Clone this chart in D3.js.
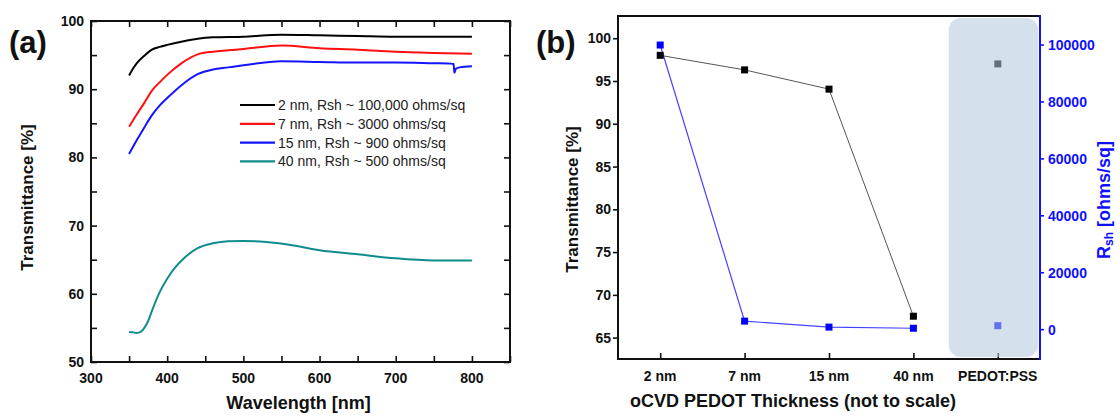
<!DOCTYPE html>
<html>
<head>
<meta charset="utf-8">
<script src="https://cdn.jsdelivr.net/npm/d3@7"></script>
<style>
    body { margin: 0; background: #fff; }
    svg { display: block; font-family: Arial, "Liberation Sans", sans-serif; }
    .tick-label { font-size: 14px; font-weight: bold; fill: #111; }
    .axis-title { font-size: 17px; font-weight: bold; fill: #111; }
</style>
</head>
<body>
<div id="chart"></div>
<script>
/* global d3 */

// ---- panel (a): transmittance spectra ----
var wl2 = [350, 355, 360, 370, 380, 390, 400, 420, 440, 460, 500, 550, 600, 650, 700, 750, 800],
    t2nm = [92.0, 93.0, 93.8, 94.9, 95.8, 96.2, 96.5, 97.0, 97.4, 97.6, 97.7, 98.0, 97.9, 97.8, 97.7, 97.7, 97.7];

var wl7 = [350, 360, 370, 380, 390, 400, 420, 440, 460, 480, 500, 550, 600, 650, 700, 750, 800],
    t7nm = [84.5, 86.3, 88.0, 89.8, 91.0, 92.1, 93.9, 95.1, 95.5, 95.7, 95.9, 96.4, 96.0, 95.8, 95.5, 95.3, 95.2];

var wl15 = [350, 360, 370, 380, 390, 400, 420, 440, 460, 480, 500, 550, 600, 650, 700, 750, 772, 776, 777, 779, 784, 800],
    t15nm = [80.5, 82.5, 84.4, 86.2, 87.6, 88.7, 90.7, 92.2, 92.9, 93.2, 93.5, 94.1, 94.0, 93.9, 93.9, 93.8, 93.75, 93.7, 92.4, 93.0, 93.2, 93.35];

var wl40 = [350, 355, 360, 365, 370, 375, 380, 390, 400, 410, 420, 440, 460, 480, 500, 530, 560, 600, 650, 700, 750, 800],
    t40nm = [54.4, 54.35, 54.25, 54.4, 55.0, 56.0, 57.5, 60.2, 62.2, 63.8, 65.0, 66.7, 67.4, 67.7, 67.75, 67.6, 67.2, 66.4, 65.8, 65.2, 64.9, 64.9];

var spectraNames = ["2 nm, Rsh ~ 100,000 ohms/sq", "7 nm, Rsh ~ 3000 ohms/sq",
                    "15 nm, Rsh ~ 900 ohms/sq", "40 nm, Rsh ~ 500 ohms/sq"],
    spectraColors = ["#000000", "#ff1010", "#1414ff", "#108c8c"];

var aXTicks = [300, 400, 500, 600, 700, 800],
    aYTicks = [50, 60, 70, 80, 90, 100];

// ---- panel (b): transmittance and sheet resistance vs thickness ----
var thickness = ["2 nm", "7 nm", "15 nm", "40 nm", "PEDOT:PSS"],
    transB = [98.0, 96.3, 94.05, 67.5, 97.0],
    rsh = [100000, 3000, 900, 500, 1400];

var bLeftTicks = [65, 70, 75, 80, 85, 90, 95, 100],
    bRightTicks = [0, 20000, 40000, 60000, 80000, 100000];

var svg = d3.select("#chart").append("svg")
    .attr("width", 1120)
    .attr("height", 416);

function drawPanelA() {
    var left = 91, right = 510, top = 21, bottom = 362,
        x = d3.scaleLinear().domain([300, 850]).range([left, right]),
        y = d3.scaleLinear().domain([50, 100]).range([bottom, top]),
        g = svg.append("g").attr("class", "panel-a"),
        series = [[wl2, t2nm], [wl7, t7nm], [wl15, t15nm], [wl40, t40nm]],
        line;

    // inward ticks on all four sides, minor every half step
    g.append("g").attr("transform", "translate(0," + bottom + ")")
        .call(d3.axisBottom(x).tickValues(d3.range(300, 851, 50)).tickSize(-6).tickFormat(""));
    g.append("g").attr("transform", "translate(0," + top + ")")
        .call(d3.axisTop(x).tickValues(d3.range(300, 851, 50)).tickSize(-6).tickFormat(""));
    g.append("g").attr("transform", "translate(" + left + ",0)")
        .call(d3.axisLeft(y).tickValues(d3.range(50, 101, 5)).tickSize(-6).tickFormat(""));
    g.append("g").attr("transform", "translate(" + right + ",0)")
        .call(d3.axisRight(y).tickValues(d3.range(50, 101, 5)).tickSize(-6).tickFormat(""));
    g.selectAll(".domain").remove();
    g.selectAll(".tick line").attr("stroke", "#111").attr("stroke-width", 1.6);

    g.append("rect")
        .attr("x", left).attr("y", top)
        .attr("width", right - left).attr("height", bottom - top)
        .attr("fill", "none").attr("stroke", "#111").attr("stroke-width", 2);

    g.selectAll(".xl").data(aXTicks).enter().append("text")
        .attr("class", "tick-label")
        .attr("x", function (d) { return x(d); })
        .attr("y", bottom + 21)
        .attr("text-anchor", "middle")
        .text(function (d) { return d; });

    g.selectAll(".yl").data(aYTicks).enter().append("text")
        .attr("class", "tick-label")
        .attr("x", left - 7)
        .attr("y", function (d) { return y(d) + 5; })
        .attr("text-anchor", "end")
        .text(function (d) { return d; });

    line = d3.line()
        .x(function (d) { return x(d[0]); })
        .y(function (d) { return y(d[1]); })
        .curve(d3.curveMonotoneX);

    series.forEach(function (s, i) {
        g.append("path")
            .datum(d3.zip(s[0], s[1]))
            .attr("d", line)
            .attr("fill", "none")
            .attr("stroke", spectraColors[i])
            .attr("stroke-width", 2);
    });

    // legend
    spectraNames.forEach(function (name, i) {
        var ly = 105 + i * 18.8;
        g.append("line")
            .attr("x1", 240).attr("x2", 275)
            .attr("y1", ly).attr("y2", ly)
            .attr("stroke", spectraColors[i]).attr("stroke-width", 2.2);
        g.append("text")
            .attr("x", 278).attr("y", ly + 5)
            .attr("font-size", 14).attr("fill", "#222")
            .text(name);
    });

    g.append("text")
        .attr("class", "axis-title")
        .attr("transform", "translate(33," + ((top + bottom) / 2 + 6) + ") rotate(-90)")
        .attr("text-anchor", "middle")
        .text("Transmittance [%]");

    // sits a little higher than the original so it is not clipped
    g.append("text")
        .attr("class", "axis-title")
        .attr("x", (left + right) / 2 - 2)
        .attr("y", 409)
        .attr("text-anchor", "middle")
        .style("font-size", "18px")
        .text("Wavelength [nm]");

    g.append("text")
        .attr("x", 9).attr("y", 53)
        .attr("font-size", 31).attr("font-weight", "bold").attr("fill", "#111")
        .text("(a)");
}

function drawPanelB() {
    var left = 618, right = 1040, top = 16, bottom = 359,
        x = d3.scalePoint().domain(thickness).range([left, right]).padding(0.5),
        y = d3.scaleLinear().domain([62.5, 102.6]).range([bottom, top]),
        yR = d3.scaleLinear().domain([-10300, 110200]).range([bottom, top]),
        g = svg.append("g").attr("class", "panel-b"),
        pts = thickness.map(function (t, i) { return { t: t, tr: transB[i], r: rsh[i] }; }),
        film = pts.slice(0, 4),
        pedot = x("PEDOT:PSS"),
        rt;

    // frame: black top/left/bottom, blue right
    g.append("line").attr("x1", left).attr("x2", right).attr("y1", top).attr("y2", top)
        .attr("stroke", "#111").attr("stroke-width", 2);
    g.append("line").attr("x1", left).attr("x2", right).attr("y1", bottom).attr("y2", bottom)
        .attr("stroke", "#111").attr("stroke-width", 2);
    g.append("line").attr("x1", left).attr("x2", left).attr("y1", top - 1).attr("y2", bottom + 1)
        .attr("stroke", "#111").attr("stroke-width", 2);

    g.append("g").attr("transform", "translate(" + left + ",0)")
        .call(d3.axisLeft(y).tickValues(bLeftTicks).tickSize(5).tickFormat(""));
    g.append("g").attr("transform", "translate(0," + bottom + ")")
        .call(d3.axisBottom(x).tickSize(-6).tickFormat(""));
    g.selectAll(".domain").remove();
    g.selectAll(".tick line").attr("stroke", "#111").attr("stroke-width", 1.6);

    g.selectAll(".yl").data(bLeftTicks).enter().append("text")
        .attr("class", "tick-label")
        .attr("x", left - 7)
        .attr("y", function (d) { return y(d) + 5; })
        .attr("text-anchor", "end")
        .text(function (d) { return d; });

    g.selectAll(".xl").data(thickness).enter().append("text")
        .attr("class", "tick-label")
        .attr("x", function (d) { return x(d); })
        .attr("y", bottom + 22)
        .attr("text-anchor", "middle")
        .text(function (d) { return d; });

    // connecting lines (oCVD films only)
    g.append("path")
        .datum(film)
        .attr("d", d3.line().x(function (d) { return x(d.t); }).y(function (d) { return y(d.tr); }))
        .attr("fill", "none").attr("stroke", "#555").attr("stroke-width", 1);
    g.append("path")
        .datum(film)
        .attr("d", d3.line().x(function (d) { return x(d.t); }).y(function (d) { return yR(d.r); }))
        .attr("fill", "none").attr("stroke", "#4444ff").attr("stroke-width", 1.2);

    g.selectAll(".mk-t").data(pts).enter().append("rect")
        .attr("x", function (d) { return x(d.t) - 3.5; })
        .attr("y", function (d) { return y(d.tr) - 3.5; })
        .attr("width", 7).attr("height", 7)
        .attr("fill", "#000");
    g.selectAll(".mk-r").data(pts).enter().append("rect")
        .attr("x", function (d) { return x(d.t) - 3.5; })
        .attr("y", function (d) { return yR(d.r) - 3.5; })
        .attr("width", 7).attr("height", 7)
        .attr("fill", "#0000ff");

    // shaded box over the PEDOT:PSS reference
    g.append("rect")
        .attr("x", pedot - 49).attr("y", top + 2)
        .attr("width", right - 2 - (pedot - 49)).attr("height", bottom - top - 4)
        .attr("rx", 12).attr("ry", 12)
        .attr("fill", "rgb(178,202,222)").attr("fill-opacity", 0.56);

    // right axis (sheet resistance)
    g.append("line").attr("x1", right).attr("x2", right).attr("y1", top - 1).attr("y2", bottom + 1)
        .attr("stroke", "#1010ff").attr("stroke-width", 2);
    g.selectAll(".rt").data(bRightTicks).enter().append("line")
        .attr("x1", right).attr("x2", right + 4)
        .attr("y1", function (d) { return yR(d); })
        .attr("y2", function (d) { return yR(d); })
        .attr("stroke", "#1010ff").attr("stroke-width", 1.6);
    g.selectAll(".rl").data(bRightTicks).enter().append("text")
        .attr("class", "tick-label")
        .attr("x", right + 8)
        .attr("y", function (d) { return yR(d) + 5; })
        .style("fill", "#1010ff")
        .text(function (d) { return d; });

    g.append("text")
        .attr("class", "axis-title")
        .attr("transform", "translate(578," + ((top + bottom) / 2 + 12) + ") rotate(-90)")
        .attr("text-anchor", "middle")
        .text("Transmittance [%]");

    rt = g.append("text")
        .attr("class", "axis-title")
        .attr("transform", "translate(1110,200) rotate(-90)")
        .attr("text-anchor", "middle")
        .style("fill", "#1010ff")
        .style("font-size", "18px");
    rt.append("tspan").text("R");
    rt.append("tspan").attr("dy", 3).style("font-size", "12px").text("sh");
    rt.append("tspan").attr("dy", -3).text(" [ohms/sq]");

    g.append("text")
        .attr("class", "axis-title")
        .attr("x", 793)
        .attr("y", 407)
        .attr("text-anchor", "middle")
        .style("font-size", "18px")
        .text("oCVD PEDOT Thickness (not to scale)");

    g.append("text")
        .attr("x", 536).attr("y", 53)
        .attr("font-size", 31).attr("font-weight", "bold").attr("fill", "#111")
        .text("(b)");
}

drawPanelA();
drawPanelB();
</script>
</body>
</html>
